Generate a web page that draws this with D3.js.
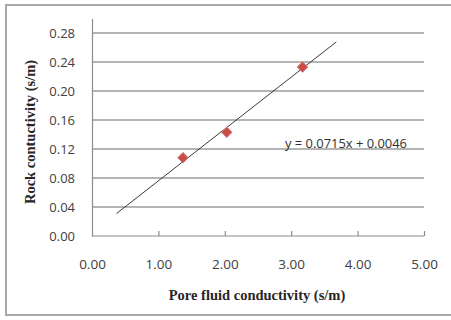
<!DOCTYPE html>
<html>
<head>
<meta charset="utf-8">
<script src="https://cdn.jsdelivr.net/npm/d3@7"></script>
<style>
html,body{margin:0;padding:0;background:#fff;}
svg{display:block;}
</style>
</head>
<body>
<script>
// Data
const poreFluid = [1.37, 2.03, 3.17];
const rockCond = [0.108, 0.143, 0.233];
const slope = 0.0715, intercept = 0.0046;
const trendRange = [0.37, 3.68];
const xTicks = [0, 1, 2, 3, 4, 5];
const yTicks = [0, 0.04, 0.08, 0.12, 0.16, 0.20, 0.24, 0.28];
const eqLabel = "y = 0.0715x + 0.0046";
const xTitle = "Pore fluid conductivity (s/m)";
const yTitle = "Rock contuctivity (s/m)";

const W = 451, H = 320;
const svg = d3.select("body").append("svg").attr("width", W).attr("height", H);

// outer frame
svg.append("rect").attr("x", 6).attr("y", 5).attr("width", 460).attr("height", 310)
  .attr("fill", "#fff").attr("stroke", "#a8a8a8").attr("stroke-width", 2);

const x = d3.scaleLinear().domain([0, 5]).range([92, 424]);
const y = d3.scaleLinear().domain([0, 0.30]).range([236, 18.5]);

// gridlines
svg.append("g").selectAll("line").data(yTicks.filter(d => d > 0)).join("line")
  .attr("x1", x(0)).attr("x2", x(5))
  .attr("y1", d => y(d)).attr("y2", d => y(d))
  .attr("stroke", "#b4b4b4").attr("stroke-width", 1.8);

// y axis
const yAxis = d3.axisLeft(y).tickValues(yTicks).tickFormat(d3.format(".2f")).tickSize(0).tickPadding(17);
const gy = svg.append("g").attr("transform", `translate(${x(0)},0)`).call(yAxis);
gy.select(".domain").attr("stroke", "#8c8c8c").attr("stroke-width", 1.2);
gy.selectAll("text").attr("font-family", "'Open Sans', sans-serif").attr("font-size", 13).attr("fill", "#404040");

// x axis
const xAxis = d3.axisBottom(x).tickValues(xTicks).tickFormat(d3.format(".2f")).tickSize(-5).tickPadding(23);
const gx = svg.append("g").attr("transform", `translate(0,${y(0)})`).call(xAxis);
gx.select(".domain").attr("stroke", "#8c8c8c").attr("stroke-width", 1.2).attr("d", `M${x(0)},0H${x(5)}`);
gx.selectAll(".tick line").attr("stroke", "#8c8c8c").attr("stroke-width", 1.2).attr("opacity", d => d === 0 ? 0 : 1);
gx.selectAll("text").attr("font-family", "'Open Sans', sans-serif").attr("font-size", 13.5).attr("fill", "#404040");

// trendline
svg.append("line")
  .attr("x1", x(trendRange[0])).attr("y1", y(slope * trendRange[0] + intercept))
  .attr("x2", x(trendRange[1])).attr("y2", y(slope * trendRange[1] + intercept))
  .attr("stroke", "#3a3a3a").attr("stroke-width", 1);

// markers
const pts = poreFluid.map((v, i) => [v, rockCond[i]]);
svg.append("g").selectAll("path").data(pts).join("path")
  .attr("d", d3.symbol().type(d3.symbolDiamond2).size(70))
  .attr("transform", d => `translate(${x(d[0])},${y(d[1])})`)
  .attr("fill", "#c94c48").attr("stroke", "#d87a76").attr("stroke-width", 1);

// equation label
svg.append("text").attr("x", 285).attr("y", 148).text(eqLabel)
  .attr("font-family", "'Open Sans', sans-serif").attr("font-size", 12.5).attr("fill", "#303030")
  .attr("textLength", 122).attr("lengthAdjust", "spacingAndGlyphs");

// axis titles
svg.append("text").attr("x", 257).attr("y", 300).attr("text-anchor", "middle").text(xTitle)
  .attr("font-family", "'Liberation Serif', serif").attr("font-weight", "bold").attr("font-size", 14.5).attr("fill", "#262626");
svg.append("text").attr("transform", "translate(35,132) rotate(-90)").attr("text-anchor", "middle").text(yTitle)
  .attr("font-family", "'Liberation Serif', serif").attr("font-weight", "bold").attr("font-size", 14.5).attr("fill", "#262626");
</script>
</body>
</html>
